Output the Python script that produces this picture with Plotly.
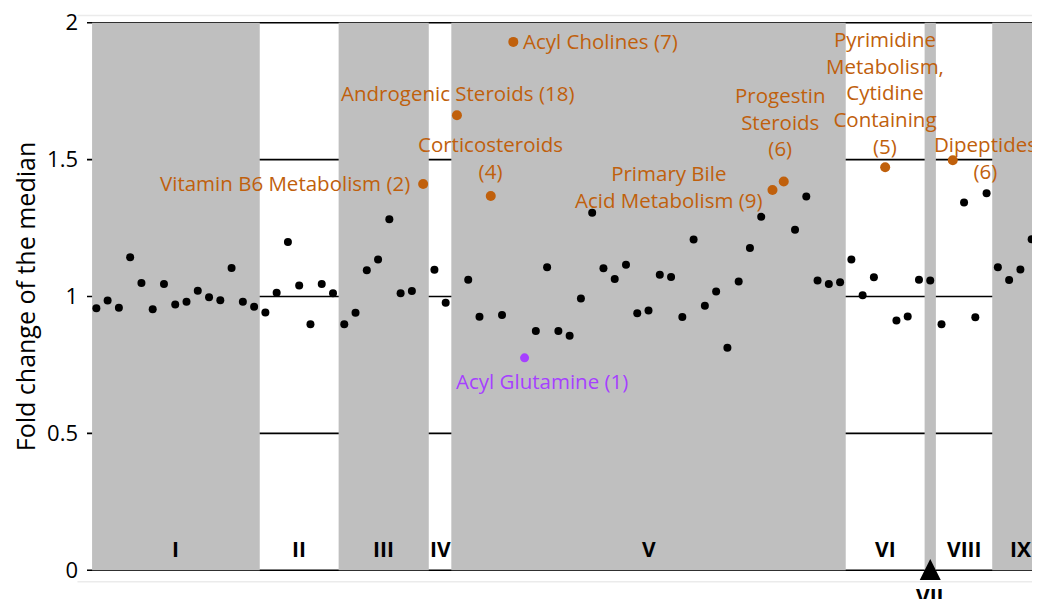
import plotly.graph_objects as go

# ---------------- data ----------------
fold_change = [
    0.957, 0.985, 0.959, 1.143, 1.049, 0.953, 1.046, 0.971, 0.981, 1.021,
    0.997, 0.986, 1.104, 0.981, 0.963,                                   # I
    0.942, 1.014, 1.199, 1.040, 0.899, 1.046, 1.012,                     # II
    0.899, 0.941, 1.096, 1.135, 1.282, 1.012, 1.020, 1.411,              # III
    1.098, 0.977,                                                        # IV
    1.662, 1.061, 0.926, 1.367, 0.932, 1.930, 0.776, 0.874, 1.107, 0.874,
    0.857, 0.993, 1.306, 1.103, 1.064, 1.116, 0.939, 0.949, 1.079, 1.071,
    0.925, 1.208, 0.966, 1.018, 0.813, 1.055, 1.177, 1.291, 1.389, 1.420,
    1.244, 1.365, 1.058, 1.046, 1.052,                                   # V
    1.135, 1.005, 1.070, 1.472, 0.912, 0.927, 1.061,                     # VI
    1.058,                                                               # VII
    0.899, 1.498, 1.343, 0.924, 1.377,                                   # VIII
    1.107, 1.060, 1.099, 1.209, 1.036,                                   # IX (visible part)
]
group_labels = ["I", "II", "III", "IV", "V", "VI", "VII", "VIII", "IX"]
group_sizes = [15, 7, 8, 2, 35, 7, 1, 5, 12]

# highlighted metabolite classes: (point index, label, colour class)
hl_index = [29, 32, 35, 37, 38, 60, 61, 70, 76]
hl_label = [
    "Vitamin B6 Metabolism (2)",
    "Androgenic Steroids (18)",
    "Corticosteroids<br>(4)",
    "Acyl Cholines (7)",
    "Acyl Glutamine (1)",
    "Primary Bile<br>Acid Metabolism (9)",
    "Progestin<br>Steroids<br>(6)",
    "Pyrimidine<br>Metabolism,<br>Cytidine<br>Containing<br>(5)",
    "Dipeptides<br>(6)",
]
hl_kind = ["up", "up", "up", "up", "down", "up", "up", "up", "up"]

y_ticks = [0, 0.5, 1, 1.5, 2]
y_tick_text = ["0", "0.5", "1", "1.5", "2"]

# ---------------- styling ----------------
ORANGE = "#c0600c"
PURPLE = "#a640ff"
GRAY = "#bfbfbf"
FONT = "'Open Sans', 'Noto Sans', sans-serif"
ANN_SIZE = 20.5

# label placement (anchor, shifts in px) per highlight
hl_place = [
    dict(xanchor="right", yanchor="middle", xshift=-11, yshift=1),
    dict(xanchor="center", yanchor="bottom", xshift=1, yshift=6),
    dict(xanchor="center", yanchor="bottom", xshift=0, yshift=9),
    dict(xanchor="left", yanchor="middle", xshift=8, yshift=1),
    dict(xanchor="center", yanchor="top", xshift=17, yshift=-7),
    dict(xanchor="right", yanchor="middle", xshift=-7, yshift=4),
    dict(xanchor="center", yanchor="bottom", xshift=-3, yshift=18),
    dict(xanchor="center", yanchor="bottom", xshift=0, yshift=5),
    dict(xanchor="center", yanchor="middle", xshift=33, yshift=3),
]

n = len(fold_change)
idx = list(range(n))
x_lo, x_hi = -0.83, 83.74

fig = go.Figure()

# group bands
shapes = []
annotations = []
start = -0.5
for gi, (lab, size) in enumerate(zip(group_labels, group_sizes)):
    end = start + size
    x0 = max(start, x_lo + 0.45)
    if gi % 2 == 0:
        shapes.append(dict(type="rect", xref="x", yref="y", x0=x0, x1=end,
                           y0=0, y1=2, fillcolor=GRAY, line_width=0, layer="below"))
    vis_end = min(end, x_hi + 0.7) if lab == "IX" else end
    cx = (x0 + vis_end) / 2
    if lab == "VII":
        annotations.append(dict(x=cx, y=0, xref="x", yref="y", text="<b>VII</b>",
                                showarrow=False, yanchor="top", yshift=-10,
                                font=dict(family=FONT, size=21, color="black")))
        fig.add_trace(go.Scatter(x=[cx], y=[0.041], mode="markers", cliponaxis=False,
                                 marker=dict(symbol="arrow-up", size=21, color="black"),
                                 hoverinfo="skip", showlegend=False))
    else:
        annotations.append(dict(x=cx, y=0.076, xref="x", yref="y", text=f"<b>{lab}</b>",
                                showarrow=False, yanchor="middle",
                                font=dict(family=FONT, size=21, color="black")))
    start = end

# horizontal reference lines
for yv in y_ticks:
    shapes.append(dict(type="line", xref="paper", yref="y", x0=0, x1=1, y0=yv, y1=yv,
                       line=dict(color="black", width=1.6), layer="below"))

# faint frame lines
shapes.append(dict(type="line", xref="paper", yref="paper", x0=-0.01, x1=1,
                   y0=1.008, y1=1.008, line=dict(color="#ebebeb", width=1.5)))
shapes.append(dict(type="line", xref="paper", yref="paper", x0=-0.01, x1=1,
                   y0=-0.016, y1=-0.016, line=dict(color="#ebebeb", width=1.5)))

# black points
black_x = [i for i in idx if i not in hl_index]
black_y = [fold_change[i] for i in black_x]
fig.add_trace(go.Scatter(x=black_x, y=black_y, mode="markers",
                         marker=dict(color="black", size=8), showlegend=False))

# highlighted points + labels
for i, lab, kind, pl in zip(hl_index, hl_label, hl_kind, hl_place):
    col = ORANGE if kind == "up" else PURPLE
    fig.add_trace(go.Scatter(x=[i], y=[fold_change[i]], mode="markers",
                             marker=dict(color=col, size=10 if kind == "up" else 9),
                             showlegend=False))
    annotations.append(dict(x=i, y=fold_change[i], xref="x", yref="y", text=lab,
                            showarrow=False, align="center",
                            font=dict(family=FONT, size=ANN_SIZE, color=col), **pl))

# the page body adds an 8 px offset, so the figure is 8 px smaller each way
fig.update_layout(
    width=1032, height=591,
    margin=dict(l=79, r=0, t=12, b=26, autoexpand=False),
    paper_bgcolor="white", plot_bgcolor="white",
    shapes=shapes, annotations=annotations,
    font=dict(family=FONT, color="black"),
    xaxis=dict(range=[x_lo, x_hi], showgrid=False, zeroline=False, automargin=False,
               showticklabels=False, ticks="", showline=False),
    yaxis=dict(range=[-0.01, 2.01], tickvals=y_ticks, ticktext=y_tick_text,
               showgrid=False, zeroline=False, showline=False, ticks="",
               automargin=False, ticklabelstandoff=8, ticklabeloverflow="allow",
               tickfont=dict(family=FONT, size=22, color="black"),
               title=dict(text="Fold change of the median", standoff=8,
                          font=dict(family=FONT, size=25, color="black"))),
)

fig.write_html("out.html")
